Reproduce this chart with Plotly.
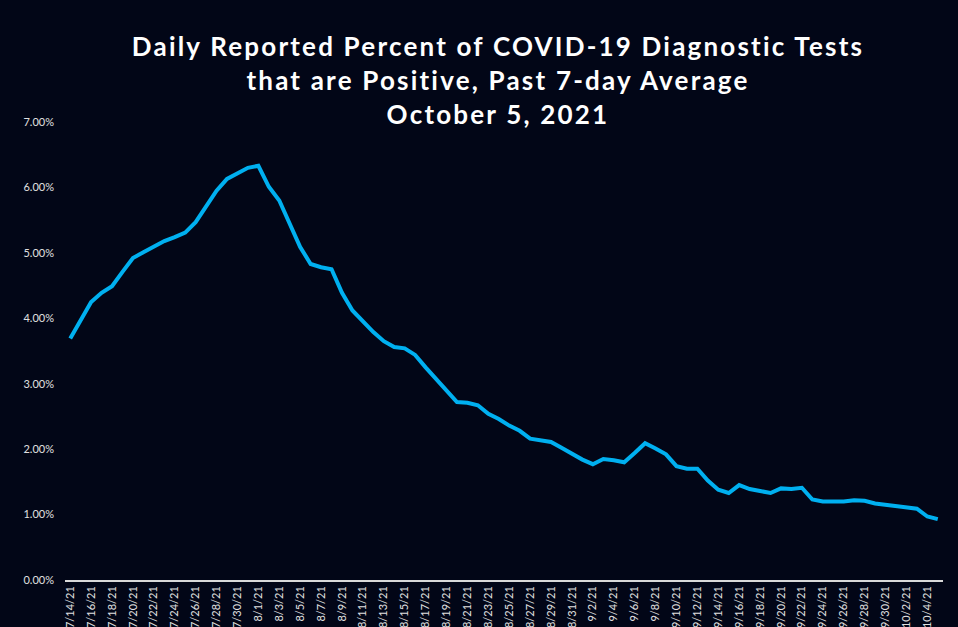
import plotly.graph_objects as go
import datetime as dt

start = dt.date(2021, 7, 14)
dates = [start + dt.timedelta(days=i) for i in range(84)]
categories = [f"{d.month}/{d.day}/21" for d in dates]

pct_positive = [
    3.69, 3.97, 4.25, 4.39, 4.49, 4.71, 4.92, 5.01, 5.10, 5.18,
    5.24, 5.31, 5.47, 5.71, 5.95, 6.13, 6.21, 6.30, 6.33, 6.01,
    5.80, 5.45, 5.09, 4.83, 4.78, 4.75, 4.39, 4.12, 3.95, 3.79,
    3.65, 3.56, 3.54, 3.44, 3.25, 3.08, 2.90, 2.72, 2.71, 2.67,
    2.54, 2.46, 2.36, 2.28, 2.16, 2.13, 2.11, 2.02, 1.93, 1.84,
    1.77, 1.85, 1.83, 1.80, 1.94, 2.09, 2.01, 1.92, 1.74, 1.70,
    1.70, 1.52, 1.38, 1.33, 1.45, 1.39, 1.36, 1.33, 1.40, 1.39,
    1.41, 1.23, 1.20, 1.20, 1.20, 1.22, 1.21, 1.17, 1.15, 1.13,
    1.11, 1.09, 0.97, 0.93,
]
values = [v / 100 for v in pct_positive]

y_ticks = [0, 0.01, 0.02, 0.03, 0.04, 0.05, 0.06, 0.07]

bg = "#020617"

fig = go.Figure()
fig.add_trace(go.Scatter(
    x=categories, y=values, mode="lines",
    line=dict(color="#00B0F0", width=4),
    hoverinfo="x+y",
))

fig.update_layout(
    width=958, height=627,
    paper_bgcolor=bg, plot_bgcolor=bg,
    margin=dict(l=65, r=15, t=122, b=47),
    showlegend=False,
    title=dict(
        text="Daily Reported Percent of COVID-19 Diagnostic Tests<br>that are Positive, Past 7-day Average<br>October 5, 2021",
        font=dict(family="Lato", size=26, color="#ffffff", weight="bold"),
        x=498 / 958, xref="container", xanchor="center",
        y=1 - 56 / 627, yref="container", yanchor="top",
    ),
    font=dict(family="Lato", color="#e0e0e0"),
)

fig.update_xaxes(
    type="category", range=[-0.5, 83.5],
    tickmode="array", tickvals=categories[::2], ticktext=categories[::2],
    tickangle=-90, tickfont=dict(size=11, color="#e0e0e0"),
    showgrid=False, zeroline=False,
    showline=True, linecolor="#d9d9d9", linewidth=1.5,
    ticks="", automargin=False,
)
fig.update_yaxes(
    range=[0, 0.07], tickmode="array", tickvals=y_ticks,
    tickformat=".2%", tickfont=dict(size=11, color="#e0e0e0"),
    showgrid=False, zeroline=False, showline=False,
    ticks="", automargin=False, ticklabelstandoff=10,
)

post = """
document.body.style.margin='0';
document.body.style.background='%s';
document.querySelectorAll('.gtitle').forEach(function(t){t.style.letterSpacing='2.2px';});
""" % bg

fig.write_html("out.html", post_script=post, config={"displayModeBar": False})
